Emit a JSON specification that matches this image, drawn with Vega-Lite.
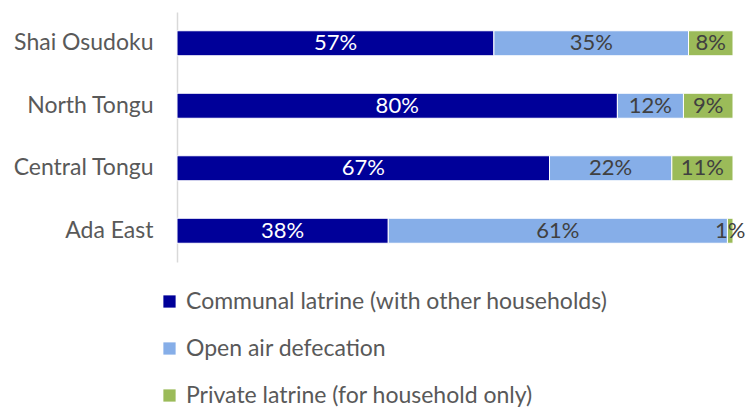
{
  "$schema": "https://vega.github.io/schema/vega-lite/v6.json",
  "width": 556,
  "height": 250,
  "autosize": {"type": "none"},
  "padding": {"left": 177, "top": 12, "right": 13, "bottom": 145},
  "config": {
    "font": "Lato",
    "view": {"stroke": null},
    "axis": {"labelFont": "Lato", "titleFont": "Lato"},
    "legend": {"labelFont": "Lato"}
  },
  "data": {
    "values": [
      {"district": "Shai Osudoku", "type": "Communal latrine (with other households)", "value": 57},
      {"district": "Shai Osudoku", "type": "Open air defecation", "value": 35},
      {"district": "Shai Osudoku", "type": "Private latrine (for household only)", "value": 8},
      {"district": "North Tongu", "type": "Communal latrine (with other households)", "value": 80},
      {"district": "North Tongu", "type": "Open air defecation", "value": 12},
      {"district": "North Tongu", "type": "Private latrine (for household only)", "value": 9},
      {"district": "Central Tongu", "type": "Communal latrine (with other households)", "value": 67},
      {"district": "Central Tongu", "type": "Open air defecation", "value": 22},
      {"district": "Central Tongu", "type": "Private latrine (for household only)", "value": 11},
      {"district": "Ada East", "type": "Communal latrine (with other households)", "value": 38},
      {"district": "Ada East", "type": "Open air defecation", "value": 61},
      {"district": "Ada East", "type": "Private latrine (for household only)", "value": 1}
    ]
  },
  "transform": [
    {"stack": "value", "groupby": ["district"], "sort": [{"field": "type", "order": "ascending"}], "offset": "normalize", "as": ["start", "end"]},
    {"calculate": "(datum.start + datum.end) / 2", "as": "mid"},
    {"calculate": "datum.value + '%'", "as": "label"}
  ],
  "encoding": {
    "y": {
      "field": "district",
      "type": "nominal",
      "sort": ["Shai Osudoku", "North Tongu", "Central Tongu", "Ada East"],
      "scale": {"paddingInner": 0.6, "paddingOuter": 0.3},
      "axis": {
        "title": null,
        "ticks": false,
        "domain": true,
        "domainColor": "#d9d9d9",
        "domainWidth": 1.5,
        "labelFontSize": 23,
        "labelColor": "#595959",
        "labelPadding": 24
      }
    }
  },
  "layer": [
    {
      "mark": {"type": "bar", "stroke": "#ffffff", "strokeWidth": 1},
      "encoding": {
        "x": {"field": "start", "type": "quantitative", "scale": {"domain": [0, 1]}, "axis": null},
        "x2": {"field": "end"},
        "color": {
          "field": "type",
          "type": "nominal",
          "scale": {
            "domain": ["Communal latrine (with other households)", "Open air defecation", "Private latrine (for household only)"],
            "range": ["#000099", "#86aee8", "#9bbb59"]
          },
          "legend": {
            "title": null,
            "orient": "none",
            "direction": "vertical",
            "legendX": -19,
            "legendY": 278,
            "symbolType": "square",
            "symbolSize": 150,
            "symbolStrokeWidth": 0,
            "labelFontSize": 23,
            "labelColor": "#595959",
            "labelOffset": 5,
            "rowPadding": 23,
            "labelLimit": 600
          }
        }
      }
    },
    {
      "mark": {"type": "text", "fontSize": 22, "baseline": "middle", "align": "center"},
      "encoding": {
        "x": {"field": "mid", "type": "quantitative"},
        "text": {"field": "label", "type": "nominal"},
        "color": {
          "condition": {"test": "datum.type === 'Communal latrine (with other households)'", "value": "#ffffff"},
          "value": "#404040"
        }
      }
    }
  ]
}
